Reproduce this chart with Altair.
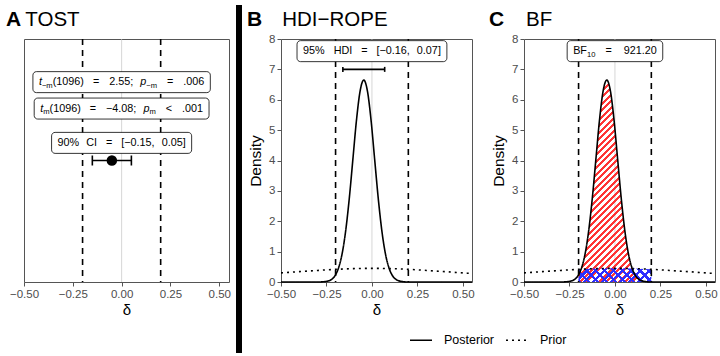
import altair as alt
import pandas as pd

# ---------------- data ----------------
X_TICKS = [-0.50, -0.25, 0.00, 0.25, 0.50]
Y_TICKS = [0, 1, 2, 3, 4, 5, 6, 7, 8]
ROPE = [-0.2, 0.2]
ZERO = [0.0]

POST_X = [-0.50, -0.30, -0.265, -0.245, -0.225, -0.20, -0.185, -0.165, -0.145, -0.125,
          -0.105, -0.085, -0.065, -0.045, -0.025, -0.005, 0.015, 0.035, 0.055, 0.075,
          0.095, 0.115, 0.135, 0.155, 0.175, 0.20, 0.55]
POST_D = [0.0, 0.0, 0.008, 0.026, 0.074, 0.236, 0.44, 0.90, 1.66, 2.73,
          4.03, 5.33, 6.29, 6.65, 6.29, 5.33, 4.03, 2.73, 1.66, 0.90,
          0.44, 0.19, 0.074, 0.026, 0.008, 0.0, 0.0]

PRIOR_X = [-0.5, -0.4, -0.3, -0.2, -0.1, 0.0, 0.1, 0.2, 0.3, 0.4, 0.5, 0.55]
PRIOR_D = [0.300, 0.341, 0.381, 0.417, 0.441, 0.450, 0.441, 0.417, 0.381, 0.341, 0.300, 0.280]

TOST_EST = [-0.05]
TOST_CI = [-0.15, 0.05]
TOST_Y = [4.0]
HDI = [-0.16, 0.07]
HDI_Y = [7.0]

LEGEND_NAMES = ["Posterior", "Prior"]
PANEL_LETTERS = ["A", "B", "C"]
PANEL_TITLES = ["TOST", "HDI\u2212ROPE", "BF"]
X_TITLE = "\u03b4"
Y_TITLE = "Density"

# label pieces: (text, kind) with kind n=normal, i=italic, s=subscript; ints are gaps (px)
TOST_LABELS = [
    [("t", "i"), ("\u2212m", "s"), ("(1096)", "n"), 9, ("=", "n"), 10, ("2.55;", "n"), 7,
     ("p", "i"), ("\u2212m", "s"), 10, ("=", "n"), 10, (".006", "n")],
    [("t", "i"), ("m", "s"), ("(1096)", "n"), 9, ("=", "n"), 10, ("\u22124.08;", "n"), 7,
     ("p", "i"), ("m", "s"), 10, ("<", "n"), 10, (".001", "n")],
    [("90%", "n"), 7, ("CI", "n"), 9, ("=", "n"), 9, ("[\u22120.15,", "n"), 7, ("0.05]", "n")],
]
TOST_LABEL_Y = [6.58, 5.71, 4.58]
HDI_LABEL = [("95%", "n"), 9, ("HDI", "n"), 9, ("=", "n"), 9, ("[\u22120.16,", "n"), 7, ("0.07]", "n")]
BF_LABEL = [("BF", "n"), ("10", "s"), 10, ("=", "n"), 12, ("921.20", "n")]
TOP_LABEL_Y = 7.6

# ---------------- styling ----------------
FONT = "Liberation Sans"
FS, SUB = 10.8, 7.6
GREY = "#555555"
LABC = "#4d4d4d"
WA, WB, WC, H = 205, 191, 191, 243

EM = {ch: 0.556 for ch in "0123456789"}
EM.update({".": .278, ",": .278, ";": .278, "(": .333, ")": .333, "[": .278, "]": .278,
           "%": .889, "=": .584, "<": .584, "\u2212": .584, "t": .278, "p": .556, "m": .833,
           "C": .722, "I": .278, "H": .722, "D": .722, "B": .667, "F": .611})

XSC = alt.Scale(domain=[-0.5, 0.55], nice=False, zero=False)
YSC = alt.Scale(domain=[0, 8], nice=False, zero=False)
x_axis = alt.Axis(values=X_TICKS, format=".2f", title=X_TITLE, grid=False, domain=False,
                  tickSize=4, tickColor=GREY, tickWidth=1, labelColor=LABC, labelFontSize=11.5,
                  labelPadding=2, titleFontSize=15, titleFontWeight="normal", titleColor="black",
                  titlePadding=3, labelFlush=False)
y_axis = alt.Axis(values=Y_TICKS, title=Y_TITLE, grid=False, domain=False,
                  tickSize=4, tickColor=GREY, tickWidth=1, labelColor=LABC, labelFontSize=11.5,
                  labelPadding=2, titleFontSize=15.5, titleFontWeight="normal", titleColor="black",
                  titlePadding=5)


def X(f="x"):
    return alt.X(f"{f}:Q", scale=XSC, axis=x_axis)


def Y(f="y", show=True):
    return alt.Y(f"{f}:Q", scale=YSC, axis=y_axis if show else None)


def seg_w(text, size):
    return sum(EM.get(c, 0.556) for c in text) * size


def label_layers(cx, cy, segs, show_y):
    pieces, pos = [], 0.0
    for s in segs:
        if isinstance(s, (int, float)):
            pos += s
            continue
        text, kind = s
        size = SUB if kind == "s" else FS
        pieces.append((text, kind, size, pos))
        pos += seg_w(text, size)
    left = -pos / 2
    df = pd.DataFrame({"x": [cx], "y": [cy]})
    layers = [alt.Chart(df).mark_rect(
        xOffset=left - 6, x2Offset=-left + 6, yOffset=-10.5, y2Offset=10.5,
        cornerRadius=3.5, fill="white", stroke="black", strokeWidth=0.8
    ).encode(x=X(), x2="x", y=Y(show=show_y), y2="y")]
    for text, kind, size, p in pieces:
        layers.append(alt.Chart(df).mark_text(
            text=text, align="left", baseline="middle", fontSize=size,
            fontStyle="italic" if kind == "i" else "normal",
            dx=left + p, dy=3.5 if kind == "s" else 0, color="black", font=FONT
        ).encode(x=X(), y=Y(show=show_y)))
    return layers


def title_layers(i, dx_letter, dx_title):
    return [
        alt.Chart().mark_text(text=PANEL_LETTERS[i], align="left", baseline="alphabetic",
                              fontSize=21, fontWeight="bold", color="black", font=FONT
                              ).encode(x=alt.value(dx_letter), y=alt.value(-13)),
        alt.Chart().mark_text(text=PANEL_TITLES[i], align="left", baseline="alphabetic",
                              fontSize=20.5, color="black", font=FONT
                              ).encode(x=alt.value(dx_title), y=alt.value(-13)),
    ]


def stripe_stops(color, period, frac, tmax):
    clear = "rgba(255,255,255,0)"
    out, k = [], 0
    while k * period < tmax:
        t0, t1, t2 = k * period, k * period + frac * period, (k + 1) * period
        out += [(color, t0), (color, t1), (clear, t1), (clear, t2)]
        k += 1
    return [alt.GradientStop(color=c, offset=round(min(o, 1.0), 5)) for c, o in out]


zero_df = pd.DataFrame({"x": ZERO})
rope_df = pd.DataFrame({"x": ROPE})
lines_df = pd.concat([
    pd.DataFrame({"x": POST_X, "y": POST_D, "curve": LEGEND_NAMES[0]}),
    pd.DataFrame({"x": PRIOR_X, "y": PRIOR_D, "curve": LEGEND_NAMES[1]}),
])

legend = alt.Legend(title=None, orient="none", legendX=385, legendY=289, direction="horizontal",
                    symbolType="stroke", symbolSize=484, symbolStrokeWidth=1.5,
                    symbolStrokeColor="black", labelFontSize=12.5, labelOffset=11,
                    columnPadding=8, labelColor="black", labelFont=FONT, padding=0)


def base_layers(show_y):
    return [
        alt.Chart(zero_df).mark_rule(color="#c4c4c4", strokeWidth=0.7).encode(x=X()),
        alt.Chart(rope_df).mark_rule(color="black", strokeWidth=1.6, strokeDash=[6, 5]).encode(x=X()),
    ]


def curves():
    return alt.Chart(lines_df).mark_line(color="black", strokeWidth=1.6, interpolate="monotone").encode(
        x=X(), y=Y(),
        strokeDash=alt.StrokeDash("curve:N", scale=alt.Scale(domain=LEGEND_NAMES, range=[[1, 0], [2, 4]]),
                                  legend=legend),
        detail="curve:N")


# ---------------- panel A ----------------
ci_df = pd.DataFrame({"x": [TOST_CI[0]], "x2": [TOST_CI[1]], "y": TOST_Y})
cap_df = pd.DataFrame({"x": TOST_CI, "y": TOST_Y * 2})
est_df = pd.DataFrame({"x": TOST_EST, "y": TOST_Y})
layersA = base_layers(False)
for segs, ly in zip(TOST_LABELS, TOST_LABEL_Y):
    layersA += label_layers(0.0, ly, segs, False)
layersA += [
    alt.Chart(ci_df).mark_rule(color="black", strokeWidth=1.6).encode(x=X(), x2="x2", y=Y(show=False)),
    alt.Chart(cap_df).mark_rule(color="black", strokeWidth=1.6, yOffset=-5, y2Offset=5).encode(
        x=X(), y=Y(show=False), y2="y"),
    alt.Chart(est_df).mark_circle(color="black", size=110, opacity=1).encode(x=X(), y=Y(show=False)),
    alt.Chart().mark_rect(color="black").encode(x=alt.value(212), x2=alt.value(218),
                                                 y=alt.value(-34), y2=alt.value(314)),
]
layersA += title_layers(0, -18, 1.3)
panelA = alt.layer(*layersA).properties(width=WA, height=H)

# ---------------- panel B ----------------
hdi_df = pd.DataFrame({"x": [HDI[0]], "x2": [HDI[1]], "y": HDI_Y})
hcap_df = pd.DataFrame({"x": HDI, "y": HDI_Y * 2})
layersB = base_layers(True) + [
    curves(),
    alt.Chart(hdi_df).mark_rule(color="black", strokeWidth=1.6).encode(x=X(), x2="x2", y=Y()),
    alt.Chart(hcap_df).mark_rule(color="black", strokeWidth=1.6, yOffset=-2.5, y2Offset=2.5).encode(
        x=X(), y=Y(), y2="y"),
]
layersB += label_layers(0.0, TOP_LABEL_Y, HDI_LABEL, True)
layersB += title_layers(1, -34, 1.2)
panelB = alt.layer(*layersB).properties(width=WB, height=H)

# ---------------- panel C ----------------
post_df = pd.DataFrame({"x": POST_X, "y": POST_D})
prior_df = pd.DataFrame({"x": PRIOR_X, "y": PRIOR_D})
red_df = post_df[(post_df.x >= ROPE[0]) & (post_df.x <= ROPE[1])]
blue_df = prior_df[(prior_df.x >= ROPE[0]) & (prior_df.x <= ROPE[1])]

Wr = (ROPE[1] - ROPE[0]) * WC / 1.05
Hr = max(red_df.y) * H / 8
Hb = max(blue_df.y) * H / 8
Lr = (Wr ** 2 + Hr ** 2) / (Wr * 2 ** 0.5)
s = 1.3
Lb = s * (Wr ** 2 + Hb ** 2) / (Wr * 2 ** 0.5)

red_grad = alt.LinearGradient(gradient="linear", x1=0, y1=0, x2=1, y2=round(Hr / Wr, 4),
                              stops=stripe_stops("#ff3535", 4.6 / Lr, 0.47, 0.46))
blue_grad1 = alt.LinearGradient(gradient="linear", x1=0, y1=0, x2=s, y2=round(s * Hb / Wr, 4),
                                stops=stripe_stops("#2e2eff", 6.3 / Lb, 0.36, 0.92))
blue_grad2 = alt.LinearGradient(gradient="linear", x1=0, y1=1, x2=s, y2=round(1 - s * Hb / Wr, 4),
                                stops=stripe_stops("#2e2eff", 6.3 / Lb, 0.36, 0.92))

layersC = [base_layers(True)[0],
           alt.Chart(red_df).mark_area(fill=red_grad, opacity=1, interpolate="monotone").encode(x=X(), y=Y()),
           alt.Chart(blue_df).mark_area(fill=blue_grad1, opacity=1).encode(x=X(), y=Y()),
           alt.Chart(blue_df).mark_area(fill=blue_grad2, opacity=1).encode(x=X(), y=Y()),
           base_layers(True)[1],
           curves()]
layersC += label_layers(0.0, TOP_LABEL_Y, BF_LABEL, True)
layersC += title_layers(2, -35, 2)
panelC = alt.layer(*layersC).properties(width=WC, height=H)

chart = alt.hconcat(panelA, panelB, panelC, spacing=52, bounds="flush").properties(
    padding={"left": 5, "top": 4, "right": 0, "bottom": 4},
    autosize=alt.AutoSizeParams(type="pad"),
).configure(font=FONT).configure_view(stroke=GREY, strokeWidth=1)

chart.save("out.html", embed_options={"renderer": "svg", "actions": False})
